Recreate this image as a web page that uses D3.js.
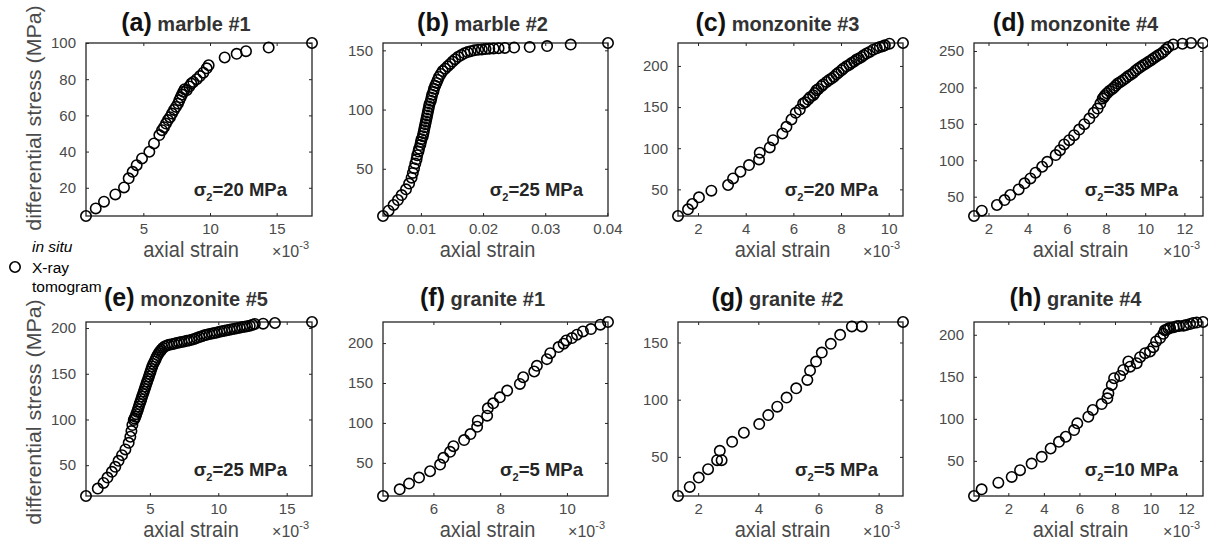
<!DOCTYPE html>
<html>
<head>
<meta charset="utf-8">
<script src="https://cdn.jsdelivr.net/npm/d3@7"></script>
<style>
  body { margin: 0; background: #fff; }
  svg text { font-family: "Liberation Sans", Arial, Helvetica, sans-serif; }
</style>
</head>
<body>
<svg id="chart" width="1208" height="546"></svg>
<script>
// ---- panel metadata ----
const panelLetters = ["(a)", "(b)", "(c)", "(d)", "(e)", "(f)", "(g)", "(h)"];
const rockNames = ["marble #1", "marble #2", "monzonite #3", "monzonite #4",
                   "monzonite #5", "granite #1", "granite #2", "granite #4"];
const sigma2MPa = [20, 25, 20, 35, 25, 5, 5, 10];
// true: strain axis printed in units of 10^-3
const strainTimes1e3 = [true, false, true, true, true, true, true, true];

const xTickValues = [
  [5, 10, 15],
  [0.01, 0.02, 0.03, 0.04],
  [2, 4, 6, 8, 10],
  [2, 4, 6, 8, 10, 12],
  [5, 10, 15],
  [6, 8, 10],
  [2, 4, 6, 8],
  [2, 4, 6, 8, 10, 12]
];
const yTickValues = [
  [20, 40, 60, 80, 100],
  [50, 100, 150],
  [50, 100, 150, 200],
  [50, 100, 150, 200, 250],
  [50, 100, 150, 200],
  [50, 100, 150, 200],
  [50, 100, 150],
  [50, 100, 150, 200]
];

// ---- stress-strain data (axial strain, differential stress in MPa) ----
const strainA = [0.7,1.43,2.05,2.9,3.55,3.9,4.2,4.5,4.9,5.45,5.8,6.2,6.4,6.55,6.7,6.85,7.0,7.15,7.3,7.45,7.6,7.7,7.8,7.9,8.0,8.1,8.25,8.45,8.6,8.75,9.0,9.25,9.5,9.75,9.9,11.1,12.0,12.7,14.4,17.65];
const stressA = [4.4,8.6,12.3,16.3,20.2,25.2,28.8,32.5,36.2,39.9,44.5,49.1,51.8,53.5,55.5,57.4,59,61,63,64.7,66.5,68.4,70,71.5,73,74.5,73.9,76,77.6,78.5,80,81.7,83.6,86,87.7,92,94,95.5,97.5,100];

const strainB = [0.0039,0.0048,0.0056,0.0063,0.0069,0.0076,0.0081,0.0085,0.0087,0.0089,0.0091,0.0093,0.0094,0.0096,0.0097,0.0099,0.0100,0.0101,0.0103,0.0104,0.0105,0.0106,0.0107,0.0108,0.0109,0.0110,0.0111,0.0112,0.0113,0.0114,0.0116,0.0117,0.0118,0.0120,0.0121,0.0123,0.0125,0.0127,0.0129,0.0132,0.0135,0.0139,0.0143,0.0147,0.0151,0.0155,0.0160,0.0165,0.0170,0.0175,0.0180,0.0186,0.0192,0.0198,0.0204,0.0210,0.0217,0.0225,0.0235,0.0250,0.0275,0.0303,0.0341,0.0401];
const stressB = [10.1,14.6,19.4,23.6,27.8,32.6,37.5,42.5,46.5,50.5,54.5,58,61.5,64.5,67,70,72.5,75,77.5,80,82.5,85,87.5,90,92.5,95,97.5,100,102.5,105,107.5,110,112.5,115,117.5,120,122.5,125,127.5,130,132.5,134.5,136.5,138.5,140.5,142.5,144.5,146,147.5,148.5,149.3,150,150.5,150.8,151.1,151.4,151.6,151.8,152,152.3,152.8,153.6,154.9,156.2];

const strainC = [1.16,1.58,1.76,2.04,2.56,3.26,3.47,3.78,4.14,4.56,4.59,5.01,5.15,5.54,5.71,5.92,6.1,6.27,6.41,6.5,6.62,6.7,6.83,6.9,6.97,7.05,7.18,7.25,7.39,7.5,7.6,7.7,7.81,7.9,8.02,8.1,8.23,8.35,8.44,8.55,8.65,8.75,8.86,8.95,9.07,9.2,9.35,9.5,9.63,9.75,9.84,10.03,10.6];
const stressC = [17.6,25.7,32.2,40.3,48.4,55.3,63.3,71.4,79.5,86.4,94.5,101,109.8,117.9,126,134.9,143,147,154.3,156,159.2,162,164.4,167,170.5,172,175.4,177.5,180.6,183,184.7,187,189.9,192,194.8,197,199.6,201.5,203.7,205.5,207.7,209,210.9,213,215,217,219.8,221.5,223.1,224,225.1,227.1,227.9];

const strainD = [1.26,1.66,2.43,2.82,3.11,3.54,3.84,4.14,4.4,4.74,5.0,5.43,5.65,5.86,6.12,6.37,6.63,6.89,7.15,7.37,7.57,7.71,7.83,7.9,7.95,8.05,8.17,8.3,8.4,8.5,8.6,8.73,8.86,9.0,9.12,9.25,9.38,9.5,9.63,9.76,9.89,10.02,10.15,10.28,10.4,10.53,10.66,10.8,10.92,11.05,11.18,11.43,11.9,12.34,12.95];
const stressD = [23.5,30.8,38.6,45.4,52.3,60,68.3,75.1,82.9,91.1,97.9,107.1,113.9,121.7,127.6,134.5,142.2,149.5,157.3,165.1,171,177.9,184.7,187,189.3,192,195.2,197.5,199.8,202.5,205.3,207.5,209.8,212.5,215.3,217.5,219.9,223,225.8,228,230.4,232.5,234.9,237,239.5,241.8,244.1,246.3,248.6,252,255.5,259.1,260,261,261];

const strainE = [0.33,1.19,1.61,1.9,2.22,2.47,2.71,2.96,3.21,3.45,3.57,3.65,3.72,3.82,3.88,3.94,4.0,4.07,4.13,4.19,4.25,4.31,4.37,4.43,4.5,4.56,4.62,4.68,4.74,4.8,4.87,4.93,4.99,5.05,5.11,5.17,5.25,5.34,5.42,5.49,5.57,5.66,5.75,5.84,5.95,6.08,6.25,6.4,6.6,6.77,6.95,7.14,7.3,7.51,7.7,7.87,8.05,8.24,8.42,8.61,8.8,8.98,9.15,9.35,9.55,9.72,9.9,10.09,10.27,10.45,10.63,10.82,11.0,11.19,11.37,11.56,11.75,11.93,12.1,12.3,12.5,12.67,13.28,14.14,16.85];
const stressE = [16.3,24.4,30.6,36.5,42.7,48.2,54.8,61,67.2,74.5,81.1,87.3,93.9,99.4,101,103,105.8,108.5,111.2,114,116.8,119.5,122.2,125,127.8,130.5,133.2,136,138.8,141.5,144.2,147,149.8,152.5,155.2,158,160.7,163.4,165.8,168.2,170.4,172.6,174.5,176.2,178.2,179.9,180.9,181.7,182.3,182.8,183.6,184.3,184.8,185.4,186,186.5,187.2,187.9,189,190.1,191,192,192.7,193.4,194,194.5,195.2,196,196.6,197.1,197.6,198.2,198.8,199.3,199.9,200.4,201,201.5,202,202.6,203.5,204.4,204.8,205.5,206.6];

const strainF = [4.49,4.99,5.27,5.57,5.9,6.2,6.3,6.5,6.6,6.92,7.11,7.31,7.33,7.61,7.63,7.79,7.99,8.21,8.59,8.69,9.02,9.1,9.4,9.5,9.75,9.9,9.98,10.15,10.3,10.48,10.72,11.0,11.23];
const stressF = [8.5,16.9,24,31.6,39.5,47.9,56.3,63.8,70.9,78.5,86,95.2,102.8,109.1,118.3,124.6,132.1,140.5,148.9,157.2,164.4,171.5,179.9,187.4,195,199.2,203.3,206.3,210.5,214.6,217.6,223,226.4];

const strainG = [1.33,1.72,2.02,2.33,2.63,2.78,2.72,3.13,3.52,4.03,4.33,4.63,4.94,5.26,5.63,5.72,5.92,6.11,6.41,6.72,7.11,7.44,8.81];
const stressG = [15.8,23.7,31.9,39.2,47.1,47.1,55.3,63.2,71.1,78.7,86.5,93.9,101.8,109.9,117.3,125.4,133.3,141.2,148.8,156.7,164,164,167.9];

const strainH = [0.07,0.5,1.44,2.19,2.66,3.31,3.88,4.38,4.85,5.23,5.7,5.88,6.5,6.75,7.25,7.57,7.63,7.82,7.95,8.29,8.47,8.85,8.75,9.22,9.41,9.69,9.97,10.16,10.31,10.54,10.72,10.8,10.9,11.0,11.1,11.3,11.47,11.6,11.85,12.0,12.22,12.4,12.6,12.95];
const stressH = [8.2,16.2,24.1,30.9,38.9,46.8,54.8,64.7,72.7,78.7,86.6,94.6,102.5,110.5,117.6,124.4,130.4,140.3,148.3,151.1,158.2,162,168.2,166.2,173.4,178.1,180.1,185.3,192.1,196.1,201.2,205.4,206,207.5,208,209,210,210.5,210.8,211.5,212.8,214,214.5,215.2];

const strainSeries = [strainA, strainB, strainC, strainD, strainE, strainF, strainG, strainH];
const stressSeries = [stressA, stressB, stressC, stressD, stressE, stressF, stressG, stressH];

// ---- layout ----
const colLeft  = [86, 383, 678, 974];
const colRight = [312, 608, 903, 1203];
const rowTop    = [43, 322];
const rowBottom = [216, 496];
const titleBaseline = [31, 306];

const axisColor = "#262626";
const labelColor = "#4a4a4a";
const markerR = 5.2;

const svg = d3.select("#chart");

// text placed at (x, y) and stretched vertically by sy
function tallText(parent, x, y, sy) {
  return parent.append("text").attr("transform", `translate(${x},${y}) scale(1,${sy})`);
}

strainSeries.forEach((strain, i) => {
  const col = i % 4, row = Math.floor(i / 4);
  const L = colLeft[col], R = colRight[col], T = rowTop[row], B = rowBottom[row];
  const stress = stressSeries[i];

  const x = d3.scaleLinear().domain(d3.extent(strain)).range([L, R]);
  const y = d3.scaleLinear().domain(d3.extent(stress)).range([B, T]);
  const fmt = strainTimes1e3[i] ? d3.format("d") : d3.format(".2f");

  const g = svg.append("g").attr("class", "panel");

  // axes: labelled bottom/left, mirrored ticks top/right, ticks point inward
  const styleAxis = sel => {
    sel.select(".domain").remove();
    sel.selectAll(".tick line").attr("stroke", axisColor).attr("stroke-width", 1);
    sel.selectAll(".tick text").attr("fill", labelColor).attr("font-size", 15)
       .attr("font-family", null);
  };
  g.append("g").attr("transform", `translate(0,${B})`)
    .call(d3.axisBottom(x).tickValues(xTickValues[i]).tickSize(-3).tickPadding(7).tickFormat(fmt))
    .call(styleAxis);
  g.append("g").attr("transform", `translate(0,${T})`)
    .call(d3.axisTop(x).tickValues(xTickValues[i]).tickSize(-3).tickFormat(""))
    .call(styleAxis);
  g.append("g").attr("transform", `translate(${L},0)`)
    .call(d3.axisLeft(y).tickValues(yTickValues[i]).tickSize(-3).tickPadding(10))
    .call(styleAxis);
  g.append("g").attr("transform", `translate(${R},0)`)
    .call(d3.axisRight(y).tickValues(yTickValues[i]).tickSize(-3).tickFormat(""))
    .call(styleAxis);

  g.append("rect")
    .attr("x", L).attr("y", T).attr("width", R - L).attr("height", B - T)
    .attr("fill", "none").attr("stroke", axisColor).attr("stroke-width", 1.3);

  // markers
  g.append("g").selectAll("circle")
    .data(d3.zip(strain, stress))
    .join("circle")
    .attr("cx", d => x(d[0])).attr("cy", d => y(d[1]))
    .attr("r", markerR)
    .attr("fill", "none").attr("stroke", "#000").attr("stroke-width", 1.6);

  // title
  const title = g.append("text")
    .attr("x", (L + R) / 2 - 13).attr("y", titleBaseline[row])
    .attr("text-anchor", "middle").attr("font-weight", "bold");
  title.append("tspan").attr("font-size", 25).attr("fill", "#111").text(panelLetters[i]);
  title.append("tspan").attr("font-size", 20).attr("fill", "#333").text(" " + rockNames[i]);

  // confining stress note
  const note = g.append("text")
    .attr("x", R - 25).attr("y", B - 20)
    .attr("text-anchor", "end").attr("font-weight", "bold").attr("font-size", 18.5).attr("fill", "#262626");
  note.append("tspan").text("σ");
  note.append("tspan").attr("font-size", 11).attr("dy", 5).text("2");
  note.append("tspan").attr("dy", -5).text("=" + sigma2MPa[i] + " MPa");

  // x-axis label
  tallText(g, (L + R) / 2 - 8, B + 41, 1.1)
    .attr("text-anchor", "middle").attr("font-size", 20).attr("fill", labelColor)
    .text("axial strain");

  if (strainTimes1e3[i]) {
    const mult = g.append("text")
      .attr("x", R - 3).attr("y", B + 41)
      .attr("text-anchor", "end").attr("font-size", 16).attr("fill", labelColor);
    mult.append("tspan").text("×10");
    mult.append("tspan").attr("font-size", 11).attr("dy", -8).text("-3");
  }
});

// y-axis labels for the left column
[118, 412].forEach(cy => {
  svg.append("text")
    .attr("transform", `translate(41,${cy}) rotate(-90) scale(1.07,1)`)
    .attr("text-anchor", "middle").attr("font-size", 20).attr("fill", labelColor)
    .text("differential stress (MPa)");
});

// legend
const legend = svg.append("g");
legend.append("circle").attr("cx", 15).attr("cy", 267).attr("r", markerR)
  .attr("fill", "none").attr("stroke", "#000").attr("stroke-width", 1.6);
legend.append("text").attr("x", 32).attr("y", 252).attr("font-size", 15.5)
  .attr("font-style", "italic").text("in situ");
legend.append("text").attr("x", 32).attr("y", 273).attr("font-size", 15.5).text("X-ray");
legend.append("text").attr("x", 32).attr("y", 292).attr("font-size", 15.5).text("tomogram");
</script>
</body>
</html>
